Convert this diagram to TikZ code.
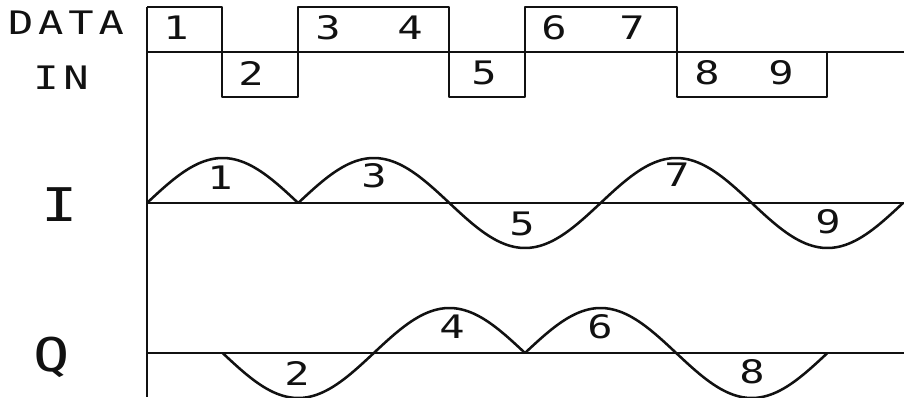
\documentclass[tikz,border=0pt]{standalone}
\usepackage{fontspec}
\usepackage{tikz}
\newfontfamily\plotfont[FakeStretch=1.3]{DejaVu Sans Mono}
\newfontfamily\plotwide[FakeStretch=1.3,LetterSpace=15]{DejaVu Sans Mono}
\definecolor{ink}{HTML}{111111}
\newcommand{\bitT}{75.6}
\newcommand{\amp}{45}

\begin{document}
\begin{tikzpicture}[x=0.025cm, y=-0.025cm,
  sigline/.style={draw=ink, line width=1.8pt, line join=round},
  numlbl/.style={font=\plotfont\fontsize{23}{23}\selectfont, text=ink, inner sep=0pt},
  chlbl/.style={font=\plotwide\fontsize{23}{23}\selectfont, text=ink, inner sep=0pt},
  axlbl/.style={font=\plotfont\fontsize{33}{33}\selectfont, text=ink, inner sep=0pt}
]
\useasboundingbox (0,0) rectangle (904,397);

%--- Channel labels ---
\node[chlbl] (datalbl) at (66,23) {DATA};
\node[chlbl] (inlbl)   at (61,78) {IN};
\node[axlbl] (ilbl)    at (60,205) {I};
\node[axlbl] (qlbl)    at (52,357) {Q};

%--- Axes ---
\draw[sigline] (147,7) -- (147,397);
\draw[sigline] (147,52) -- (904,52);
\draw[sigline] (147,203) -- (904,203);
\draw[sigline] (147,353) -- (904,353);

%--- Data in ---
\draw[sigline] (147,7) -- (222,7) -- (222,97) -- (298,97) -- (298,7)
  -- (449,7) -- (449,97) -- (525,97) -- (525,7) -- (677,7) -- (677,97)
  -- (827,97) -- (827,52);
\node[numlbl] (d1) at (176,28) {1};
\node[numlbl] (d2) at (251,73) {2};
\node[numlbl] (d3) at (328,28) {3};
\node[numlbl] (d4) at (410,28) {4};
\node[numlbl] (d5) at (484,73) {5};
\node[numlbl] (d6) at (554,28) {6};
\node[numlbl] (d7) at (632,28) {7};
\node[numlbl] (d8) at (707,73) {8};
\node[numlbl] (d9) at (781,73) {9};

%--- I channel ---
\foreach \k/\s in {0/1, 2/1, 4/-1, 6/1, 8/-1}
  \draw[sigline] plot[domain=0:180, samples=46, smooth]
    ({147+\k*\bitT+\x/90*\bitT}, {203-\s*\amp*sin(\x)});
\node[numlbl] (i1) at (220,178) {1};
\node[numlbl] (i3) at (374,176) {3};
\node[numlbl] (i5) at (522,224) {5};
\node[numlbl] (i7) at (677,175) {7};
\node[numlbl] (i9) at (828,222) {9};

%--- Q channel ---
\foreach \k/\s in {1/-1, 3/1, 5/1, 7/-1}
  \draw[sigline] plot[domain=0:180, samples=46, smooth]
    ({147+\k*\bitT+\x/90*\bitT}, {353-\s*\amp*sin(\x)});
\node[numlbl] (q2) at (297,373) {2};
\node[numlbl] (q4) at (452,327) {4};
\node[numlbl] (q6) at (600,327) {6};
\node[numlbl] (q8) at (752,372) {8};

\end{tikzpicture}
\end{document}
